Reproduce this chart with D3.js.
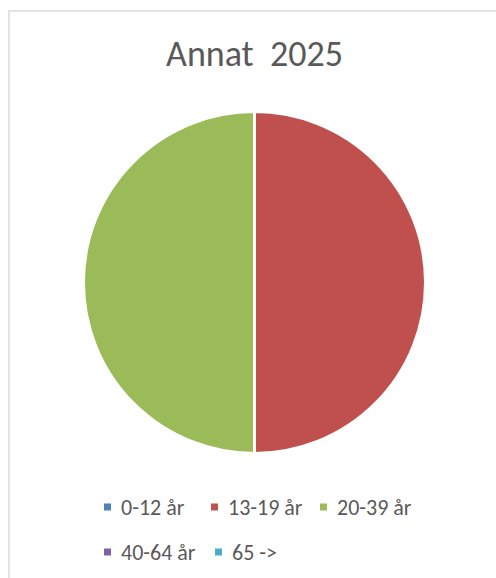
<!DOCTYPE html>
<html>
<head>
<meta charset="utf-8">
<script src="https://cdn.jsdelivr.net/npm/d3@7"></script>
<style>
  body { margin: 0; background: #fff; }
  text { font-family: Carlito, Calibri, "Open Sans", sans-serif; fill: #595959; white-space: pre; }
</style>
</head>
<body>
<div id="chart"></div>
<script>
// data
var categories = ["0-12 år", "13-19 år", "20-39 år", "40-64 år", "65 ->"];
var values = [0, 1, 1, 0, 0];
var colors = ["#4F81BD", "#C0504D", "#9BBB59", "#8064A2", "#4BACC6"];
var title = "Annat  2025";

var width = 496, height = 578;
var cx = 254.5, cy = 282.5, radius = 171;

var svg = d3.select("#chart").append("svg")
  .attr("width", width)
  .attr("height", height);

// chart area frame
svg.append("rect")
  .attr("x", 9)
  .attr("y", 11)
  .attr("width", 500)
  .attr("height", 580)
  .attr("fill", "none")
  .attr("stroke", "#d9d9d9")
  .attr("stroke-width", 1.5);

svg.append("text")
  .attr("x", cx)
  .attr("y", 66)
  .attr("text-anchor", "middle")
  .attr("xml:space", "preserve")
  .style("font-size", "36px")
  .text(title);

var pie = d3.pie().sort(null).value(function(d) { return d; });
var arc = d3.arc().innerRadius(0).outerRadius(radius);

var arcs = pie(values).map(function(a, i) { a.color = colors[i]; return a; })
  .filter(function(a) { return a.value > 0; });

svg.append("g")
  .attr("transform", "translate(" + cx + "," + cy + ")")
  .selectAll("path")
  .data(arcs)
  .enter().append("path")
  .attr("d", arc)
  .attr("fill", function(d) { return d.color; })
  .attr("stroke", "#fff")
  .attr("stroke-width", 3);

// legend, two rows like the original
var legendRows = [[0, 1, 2], [3, 4]];
var legendX = [[104, 211, 320], [104, 215]];
var legendY = [507, 552];

legendRows.forEach(function(row, r) {
  row.forEach(function(idx, k) {
    var g = svg.append("g")
      .attr("transform", "translate(" + legendX[r][k] + "," + legendY[r] + ")");
    g.append("rect")
      .attr("x", 0)
      .attr("y", -3.5)
      .attr("width", 7)
      .attr("height", 7)
      .attr("fill", colors[idx]);
    g.append("text")
      .attr("x", 17)
      .attr("y", 0)
      .attr("dy", "0.35em")
      .style("font-size", "22px")
      .text(categories[idx]);
  });
});
</script>
</body>
</html>
